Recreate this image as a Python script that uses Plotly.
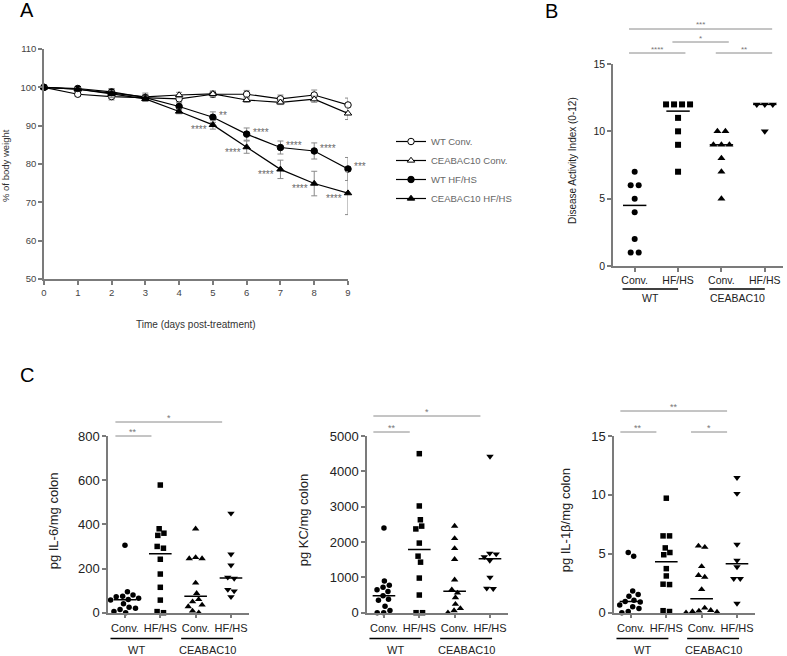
import math
import numpy as np
import plotly.graph_objects as go

W, H = 787, 656

# ---------------- Panel A data ----------------
days = [0, 1, 2, 3, 4, 5, 6, 7, 8, 9]
wt_conv = [100, 98.2, 97.6, 97.3, 97.0, 98.2, 98.2, 97.0, 98.0, 95.4]
wt_conv_sem = [0, 0.6, 0.9, 0.7, 0.9, 0.8, 1.0, 1.0, 1.3, 1.8]
ceab_conv = [100, 99.5, 98.5, 97.5, 98.0, 98.3, 96.7, 96.1, 96.9, 93.2]
ceab_conv_sem = [0, 0.5, 1.2, 1.0, 0.7, 0.7, 0.6, 0.6, 0.8, 1.6]
wt_hfhs = [100, 99.7, 98.8, 97.3, 95.0, 92.2, 87.8, 84.3, 83.4, 78.7]
wt_hfhs_sem = [0, 0.4, 0.8, 0.8, 0.9, 1.4, 1.6, 1.7, 2.1, 3.0]
ceab_hfhs = [100, 99.5, 98.3, 97.0, 93.7, 90.2, 84.4, 78.6, 74.9, 72.4]
ceab_hfhs_sem = [0, 0.4, 0.8, 0.7, 0.6, 1.1, 1.6, 2.4, 3.2, 5.6]
wt_hfhs_stars = ["", "", "", "", "", "**", "****", "****", "****", "***"]
ceab_hfhs_stars = ["", "", "", "", "", "****", "****", "****", "****", "****"]
a_series_names = ["WT Conv.", "CEABAC10 Conv.", "WT HF/HS", "CEABAC10 HF/HS"]

# ---------------- Panel B data ----------------
diet_labels = ["Conv.", "HF/HS", "Conv.", "HF/HS"]
genotype_labels = ["WT", "CEABAC10"]
b_wt_conv = [7, 6, 6, 5, 4, 2, 1, 1]
b_wt_hfhs = [12, 12, 12, 12, 11, 10, 9, 7]
b_ceab_conv = [10, 10, 9, 9, 9, 8, 7, 5]
b_ceab_hfhs = [12, 12, 12, 10]
b_sig = [(0, 1, "****", 0), (1, 2, "*", 1), (2, 3, "**", 0), (0, 3, "***", 2)]

# ---------------- Panel C data ----------------
il6_wt_conv = [305, 95, 80, 75, 72, 65, 60, 57, 40, 25, 20, 15, 5, 0]
il6_wt_hfhs = [578, 380, 360, 350, 300, 292, 242, 175, 115, 57, 5, 0]
il6_ceab_conv = [380, 250, 245, 245, 135, 88, 60, 50, 35, 28, 8, 0]
il6_ceab_hfhs = [450, 265, 215, 160, 155, 105, 98, 72]
il6_sig = [(0, 1, "**", 0), (0, 3, "*", 1)]

kc_wt_conv = [2400, 900, 780, 720, 650, 600, 480, 380, 350, 180, 60, 0, 0]
kc_wt_hfhs = [4500, 3020, 2630, 2450, 2370, 1970, 1600, 1430, 980, 500, 0, 0]
kc_ceab_conv = [2450, 2100, 1820, 1510, 930, 650, 560, 430, 240, 120, 60, 0]
kc_ceab_hfhs = [4420, 1680, 1660, 1580, 1480, 1000, 690, 680]
kc_sig = [(0, 1, "**", 0), (0, 3, "*", 1)]

il1b_wt_conv = [5.1, 4.8, 1.85, 1.55, 1.4, 1.05, 0.95, 0.9, 0.65, 0.5, 0.35, 0.1, 0.0]
il1b_wt_hfhs = [9.72, 6.52, 6.52, 5.5, 5.11, 4.92, 3.74, 3.12, 2.42, 2.39, 0.17, 0.1]
il1b_ceab_conv = [5.67, 5.56, 3.93, 3.17, 3.03, 1.97, 0.4, 0.2, 0.15, 0.1, 0.05, 0.0]
il1b_ceab_hfhs = [11.46, 10.11, 5.79, 4.44, 3.88, 2.89, 2.89, 0.79]
il1b_sig = [(0, 1, "**", 0), (2, 3, "*", 0), (0, 3, "**", 1)]

# ---------------- styling ----------------
FONT = "Arial, Liberation Sans, Helvetica, sans-serif"
AX = "#7b7b7b"
SIG = "#8a8a8a"
TXT = "#333333"
SYMBOLS = ["circle", "square", "triangle-up", "triangle-down"]


def dom_x(x0, x1):
    return [x0 / W, x1 / W]


def dom_y(y_top, y_bot):
    return [1 - y_bot / H, 1 - y_top / H]


def paper_x(dom, rng, v):
    return dom[0] + (v - rng[0]) / (rng[1] - rng[0]) * (dom[1] - dom[0])


def py(px):
    return 1 - px / H


def swarm_offsets(vals, ppx, ppy, d):
    v = np.asarray(vals, float)
    n = len(v)
    order = np.argsort(-v, kind="stable")
    pos = {}
    for k in order:
        y = v[k] * ppy
        forb = []
        for (xj, yj) in pos.values():
            dy = abs(yj - y)
            if dy < d:
                dx = math.sqrt(d * d - dy * dy)
                forb.append((xj - dx, xj + dx))
        cands = [0.0]
        for a, b in forb:
            cands += [a, b]
        cands.sort(key=lambda c: (round(abs(c), 6), -c))
        for c in cands:
            if all(not (a + 1e-6 < c < b - 1e-6) for a, b in forb):
                pos[k] = (c, y)
                break
    xs = np.array([pos[k][0] for k in range(n)])
    ys = np.array([pos[k][1] for k in range(n)])
    parent = list(range(n))

    def find(a):
        while parent[a] != a:
            parent[a] = parent[parent[a]]
            a = parent[a]
        return a

    for i in range(n):
        for j in range(i + 1, n):
            if math.hypot(xs[i] - xs[j], ys[i] - ys[j]) < d + 0.5:
                parent[find(i)] = find(j)
    roots = [find(i) for i in range(n)]
    for r in set(roots):
        idx = [i for i in range(n) if roots[i] == r]
        xs[idx] -= xs[idx].mean()
    return xs / ppx


def axis_base(**kw):
    d = dict(showline=True, linecolor=AX, linewidth=1.5, ticks="outside", ticklen=4,
             tickcolor=AX, tickwidth=1.5, showgrid=False, zeroline=False,
             fixedrange=True, tickfont=dict(family=FONT, size=10, color=TXT))
    d.update(kw)
    return d


fig = go.Figure()
layout = dict(width=W, height=H, margin=dict(l=0, r=0, t=0, b=0, autoexpand=False),
              paper_bgcolor="white", plot_bgcolor="white",
              font=dict(family=FONT, color=TXT), showlegend=True)
annotations = []
shapes = []

# ---------------- Panel A ----------------
A_dx = dom_x(44, 348)
A_dy = dom_y(49, 279)
layout["xaxis"] = axis_base(domain=A_dx, range=[0, 9], tickvals=days, anchor="y",
                            tickfont=dict(family=FONT, size=9.5, color="#444"))
layout["yaxis"] = axis_base(domain=A_dy, range=[50, 110], tickvals=list(range(50, 111, 10)),
                            anchor="x", tickfont=dict(family=FONT, size=9.5, color="#444"))

a_series = [(wt_conv, wt_conv_sem, "circle", "white"),
            (ceab_conv, ceab_conv_sem, "triangle-up", "white"),
            (wt_hfhs, wt_hfhs_sem, "circle", "black"),
            (ceab_hfhs, ceab_hfhs_sem, "triangle-up", "black")]
for name, (vals, sem, sym, fill) in zip(a_series_names, a_series):
    fig.add_trace(go.Scatter(
        x=days, y=vals, name=name, mode="lines+markers", xaxis="x", yaxis="y",
        line=dict(color="black", width=1.2),
        marker=dict(symbol=sym, size=6.5, color=fill, line=dict(color="black", width=1)),
        error_y=dict(type="data", array=sem, color="#8a8a8a", thickness=1, width=3),
        cliponaxis=False, showlegend=True))

for vals, stars, side in [(wt_hfhs, wt_hfhs_stars, "right"), (ceab_hfhs, ceab_hfhs_stars, "left")]:
    for d, v, s in zip(days, vals, stars):
        if not s:
            continue
        annotations.append(dict(
            x=d, y=v, xref="x", yref="y", text=s, showarrow=False,
            xanchor="left" if side == "right" else "right",
            xshift=4 if side == "right" else -4,
            yshift=2 if side == "right" else -5,
            font=dict(family=FONT, size=10, color="#6a6a6a")))

annotations.append(dict(x=5 / W, y=py(166), xref="paper", yref="paper", text="% of body weight",
                        textangle=-90, showarrow=False, xanchor="center", yanchor="middle",
                        font=dict(family=FONT, size=9.5, color=TXT)))
annotations.append(dict(x=196 / W, y=py(324), xref="paper", yref="paper",
                        text="Time (days post-treatment)", showarrow=False,
                        xanchor="center", yanchor="middle", font=dict(family=FONT, size=10, color=TXT)))

layout["legend"] = dict(x=391 / W, y=py(127), xanchor="left", yanchor="top",
                        bgcolor="rgba(0,0,0,0)", font=dict(family=FONT, size=9.5, color="#666"),
                        itemwidth=30, tracegroupgap=0)


# ---------------- dot-plot helper ----------------
def dot_panel(ax_id, groups, px_box, y_rng, dtick, ytitle, ytitle_x, sig, sig_levels,
              sig_pad, group_line_pad, tick_font, ylabel_font, ytick_font, line_px,
              glabel_px, med_hw, sig_font, msizes, dmin):
    x0, x1, y0, y1 = px_box
    xrng = [-0.48, 3.51] if ax_id != "2" else [-0.5, 3.42]
    xd = dom_x(x0, x1)
    yd = dom_y(y0, y1)
    xa = "x" + ax_id
    ya = "y" + ax_id
    layout["xaxis" + ax_id] = axis_base(domain=xd, range=xrng, anchor=ya, tickvals=[0, 1, 2, 3],
                                        ticktext=diet_labels,
                                        tickfont=dict(family=FONT, size=tick_font, color="#222"))
    layout["yaxis" + ax_id] = axis_base(domain=yd, range=y_rng, anchor=xa, dtick=dtick, tick0=0,
                                        tickfont=dict(family=FONT, size=ytick_font, color="#222"))
    ppx = (x1 - x0) / (xrng[1] - xrng[0])
    ppy = (y1 - y0) / (y_rng[1] - y_rng[0])
    for gi, vals in enumerate(groups):
        offs = swarm_offsets(vals, ppx, ppy, dmin)
        fig.add_trace(go.Scatter(
            x=[gi + o for o in offs], y=vals, mode="markers", xaxis=xa, yaxis=ya,
            marker=dict(symbol=SYMBOLS[gi], size=msizes[gi], color="black", line=dict(width=0)),
            cliponaxis=False, showlegend=False, hoverinfo="y"))
        med = float(np.median(vals))
        fig.add_trace(go.Scatter(
            x=[gi - med_hw, gi + med_hw], y=[med, med], mode="lines", xaxis=xa, yaxis=ya,
            line=dict(color="black", width=1.5), cliponaxis=False, showlegend=False,
            hoverinfo="skip"))
    annotations.append(dict(x=ytitle_x / W, y=py((y0 + y1) / 2 - 4), xref="paper", yref="paper",
                            text=ytitle, textangle=-90, showarrow=False,
                            xanchor="center", yanchor="middle",
                            font=dict(family=FONT, size=ylabel_font, color="#222")))
    for k, lab in enumerate(genotype_labels):
        a, b = 2 * k, 2 * k + 1
        xa0 = paper_x(xd, xrng, a - group_line_pad[0])
        xa1 = paper_x(xd, xrng, b + group_line_pad[1])
        shapes.append(dict(type="line", xref="paper", yref="paper", x0=xa0, x1=xa1,
                           y0=py(line_px), y1=py(line_px), line=dict(color="black", width=1.5)))
        annotations.append(dict(x=(xa0 + xa1) / 2, y=py(glabel_px), xref="paper", yref="paper",
                                text=lab, showarrow=False, xanchor="center", yanchor="middle",
                                font=dict(family=FONT, size=tick_font, color="#222")))
    for a, b, s, lev in sig:
        ypx = y0 - sig_levels[lev]
        xs0 = paper_x(xd, xrng, a - sig_pad[0])
        xs1 = paper_x(xd, xrng, b + sig_pad[1])
        shapes.append(dict(type="line", xref="paper", yref="paper", x0=xs0, x1=xs1,
                           y0=py(ypx), y1=py(ypx), line=dict(color=SIG, width=1)))
        annotations.append(dict(x=(xs0 + xs1) / 2, y=py(ypx - 4), xref="paper", yref="paper",
                                text=s, showarrow=False, xanchor="center", yanchor="middle",
                                font=dict(family=FONT, size=sig_font, color="#777")))


B_SIZES = [6, 6, 7, 7]
C_SIZES = [5.5, 5.5, 6.5, 6.5]
dot_panel("2", [b_wt_conv, b_wt_hfhs, b_ceab_conv, b_ceab_hfhs], (613, 783, 64, 266),
          [0, 15], 5, "Disease Activity Index (0-12)", 573, b_sig, [11, 22, 35],
          (0.13, 0.17), (0.28, 0.0), 10.5, 10, 10.5, 289, 298, 0.27, 8, B_SIZES, 8.0)
dot_panel("3", [il6_wt_conv, il6_wt_hfhs, il6_ceab_conv, il6_ceab_hfhs], (108, 249, 436, 612.7),
          [0, 800], 200, "pg IL-6/mg colon", 53, il6_sig, [0, 14],
          (0.27, -0.25), (0.41, 0.06), 11, 13, 13, 638.5, 650, 0.32, 9, C_SIZES, 6.5)
dot_panel("4", [kc_wt_conv, kc_wt_hfhs, kc_ceab_conv, kc_ceab_hfhs], (367, 508, 436, 612.7),
          [0, 5000], 1000, "pg KC/mg colon", 303, kc_sig, [4, 20],
          (0.3, -0.27), (0.41, 0.06), 11, 13, 13, 638.5, 650, 0.32, 9, C_SIZES, 6.5)
dot_panel("5", [il1b_wt_conv, il1b_wt_hfhs, il1b_ceab_conv, il1b_ceab_hfhs], (614, 755, 436, 612.7),
          [0, 15], 5, "pg IL-1\u03b2/mg colon", 565, il1b_sig, [4, 25],
          (0.3, -0.28), (0.41, 0.06), 11, 13, 13, 638.5, 650, 0.32, 9, C_SIZES, 6.5)

for lab, xpx, ypx in [("A", 18, 10), ("B", 543, 11), ("C", 18, 375)]:
    annotations.append(dict(x=xpx / W, y=py(ypx), xref="paper", yref="paper", text=lab,
                            showarrow=False, xanchor="left", yanchor="middle",
                            font=dict(family=FONT, size=20, color="black")))

layout["annotations"] = annotations
layout["shapes"] = shapes
fig.update_layout(**layout)
fig.write_html("out.html", config={"displayModeBar": False},
               post_script="document.body.style.margin='0';document.body.style.overflow='hidden';")
